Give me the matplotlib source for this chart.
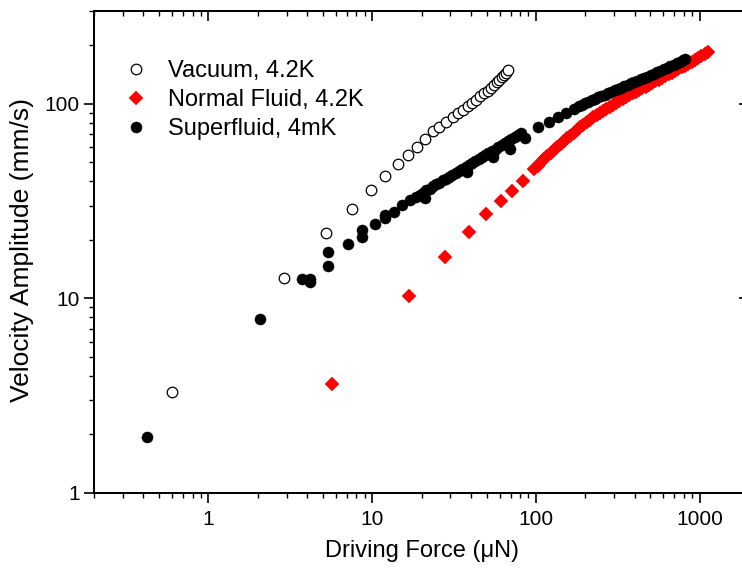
import matplotlib
matplotlib.use("Agg")
import matplotlib.pyplot as plt
from matplotlib.ticker import LogLocator, FixedLocator, FixedFormatter, NullFormatter

plt.rcParams['font.family'] = ['Liberation Sans', 'DejaVu Sans']

# ---------------- data ----------------
vac_x = [0.6, 2.9, 5.2, 7.5, 9.8, 12.0, 14.3, 16.5, 18.8, 21.1, 23.4, 25.7, 28.3, 31.0, 33.3,
         35.7, 38.3, 40.7, 43.1, 45.8, 48.4, 50.7, 53.2, 55.7, 57.9, 59.8, 61.8, 63.6, 65.4, 67.3]
vac_y = [3.3, 12.8, 21.6, 28.7, 36.0, 42.7, 49.0, 54.7, 59.9, 65.8, 72.1, 76.4, 81.1, 85.5, 89.6,
         93.1, 96.9, 100.8, 104.9, 109.1, 113.5, 117.0, 121.3, 125.3, 128.8, 132.8, 137.1, 140.9, 144.8, 149.6]

normal_x = [5.65, 16.7, 27.9, 38.8, 49.6, 61.0, 71.8, 83.9,
            97.7, 102.3, 107.2, 112.2, 117.5, 123.0, 128.8, 134.9, 141.3, 147.9, 154.9, 162.2,
            169.8, 177.8, 186.2, 195.0, 204.2, 213.8, 223.9, 234.4, 245.5, 257.0, 269.2, 281.8,
            295.1, 309.0, 323.6, 338.8, 354.8, 371.5, 389.0, 407.4, 426.6, 446.7, 467.7, 489.8,
            512.9, 537.0, 562.3, 588.8, 616.6, 645.7, 676.1, 707.9, 741.3, 776.2, 812.8, 851.1,
            891.3, 933.3, 977.2, 1023, 1072, 1117]
normal_y = [3.62, 10.3, 16.3, 21.9, 27.1, 31.6, 35.8, 40.2,
            46.2, 48.1, 50.0, 51.9, 53.9, 56.1, 58.1, 60.1, 62.1, 64.3, 66.4, 68.7,
            71.0, 73.3, 75.8, 78.2, 80.5, 82.8, 85.3, 87.3, 89.5, 91.8, 94.0, 96.4,
            98.7, 101.2, 103.5, 105.9, 108.3, 110.7, 113.2, 115.4, 117.8, 120.0, 122.5, 125.0,
            127.6, 130.3, 133.0, 135.8, 138.7, 141.6, 144.5, 147.6, 150.7, 154.2, 157.4, 160.7,
            164.1, 167.9, 171.8, 175.8, 180.7, 184.9]

super_x = [0.42, 2.07, 3.72, 4.17, 4.17, 5.39, 5.39, 7.08, 8.66, 8.66, 10.4, 12.0, 12.0, 13.6,
           15.3, 16.9, 18.5,
           19.5, 20.4, 21.4, 22.4, 23.4, 24.5, 25.7, 26.9, 28.2, 29.5, 30.9, 32.4, 33.9, 35.5,
           37.2, 38.9, 40.7, 42.7, 44.7, 46.8, 49.0, 51.3, 53.7, 56.2, 58.9, 61.7, 64.6, 67.6,
           70.8, 74.1, 77.6, 81.3,
           21.0, 37.8, 54.4, 69.6, 86.0,
           102.6, 120.0, 137.0, 153.0, 170.0,
           182.0, 190.5, 199.5, 208.9, 218.8, 229.1, 239.9, 251.2, 263.0, 275.4, 288.4, 302.0,
           316.2, 331.1, 346.7, 363.1, 380.2, 398.1, 416.9, 436.5, 457.1, 478.6, 501.2, 524.8,
           549.5, 575.4, 602.6, 631.0, 660.7, 691.8, 724.4, 758.6, 794.3, 812.8]
super_y = [1.93, 7.82, 12.6, 12.6, 12.1, 14.7, 17.3, 19.0, 20.6, 22.5, 24.0, 25.8, 26.9, 27.9,
           30.2, 32.1, 33.4,
           34.2, 35.0, 35.9, 36.7, 37.6, 38.5, 39.4, 40.4, 41.3, 42.3, 43.3, 44.3, 45.4, 46.4,
           47.5, 48.5, 49.7, 50.8, 52.0, 53.2, 54.3, 55.6, 56.9, 58.2, 59.7, 61.1, 62.7, 64.1,
           65.6, 67.3, 69.0, 70.8,
           32.7, 44.4, 53.1, 58.6, 66.6,
           75.9, 80.6, 85.5, 90.0, 94.5,
           97.3, 99.1, 100.9, 102.8, 104.5, 106.2, 107.9, 109.7, 111.5, 113.2, 115.3, 117.2,
           119.1, 121.2, 123.3, 125.3, 127.4, 129.4, 131.5, 133.6, 135.8, 138.0, 140.3, 142.9,
           145.2, 147.6, 150.3, 152.8, 155.6, 158.5, 161.4, 164.8, 167.9, 169.4]

labels = ["Vacuum, 4.2K", "Normal Fluid, 4.2K", "Superfluid, 4mK"]
x_ticks = [1, 10, 100, 1000]
x_ticklabels = ["1", "10", "100", "1000"]
y_ticks = [1, 10, 100]
y_ticklabels = ["1", "10", "100"]

# ---------------- figure ----------------
W, H = 742, 568
fig = plt.figure(figsize=(W / 100, H / 100), dpi=100)
ax = fig.add_axes([94 / W, 75 / H, 655 / W, 482 / H])

ax.plot(vac_x, vac_y, linestyle='none', marker='o', ms=7.6, mfc='white', mec='black',
        mew=0.9, label=labels[0], zorder=3)
ax.plot(normal_x, normal_y, linestyle='none', marker='D', ms=7.0, mfc='#ff0000', mec='#ff0000',
        mew=0.3, label=labels[1], zorder=4)
ax.plot(super_x, super_y, linestyle='none', marker='o', ms=8.0, mfc='black', mec='black',
        mew=0.3, label=labels[2], zorder=5)

ax.set_xscale('log')
ax.set_yscale('log')
ax.set_xlim(0.2, 2000)
ax.set_ylim(1, 300)

for s in ax.spines.values():
    s.set_linewidth(1.3)

ax.xaxis.set_major_locator(FixedLocator(x_ticks))
ax.xaxis.set_major_formatter(FixedFormatter(x_ticklabels))
ax.xaxis.set_minor_locator(LogLocator(base=10, subs=range(2, 10)))
ax.xaxis.set_minor_formatter(NullFormatter())
ax.yaxis.set_major_locator(FixedLocator(y_ticks))
ax.yaxis.set_major_formatter(FixedFormatter(y_ticklabels))
ax.yaxis.set_minor_locator(LogLocator(base=10, subs=range(2, 10)))
ax.yaxis.set_minor_formatter(NullFormatter())

ax.tick_params(which='major', direction='out', length=7.2, width=1.2, labelsize=15,
               top=False, right=False, pad=5)
ax.tick_params(which='minor', direction='out', length=3.6, width=1.0, top=False, right=False)
ax.tick_params(axis='y', which='major', pad=3)

# mirrored inward ticks on top and right
tx = ax.twiny()
tx.set_xscale('log')
tx.set_xlim(ax.get_xlim())
tx.xaxis.set_major_locator(FixedLocator(x_ticks))
tx.xaxis.set_minor_locator(LogLocator(base=10, subs=range(2, 10)))
tx.tick_params(which='major', direction='in', length=7.2, width=1.2, labeltop=False)
tx.tick_params(which='minor', direction='in', length=3.6, width=1.0, labeltop=False)
tx.xaxis.set_minor_formatter(NullFormatter())

ty = ax.twinx()
ty.set_yscale('log')
ty.set_ylim(ax.get_ylim())
ty.yaxis.set_major_locator(FixedLocator(y_ticks))
ty.yaxis.set_minor_locator(LogLocator(base=10, subs=range(2, 10)))
ty.tick_params(which='major', direction='in', length=7.2, width=1.2, labelright=False)
ty.tick_params(which='minor', direction='in', length=3.6, width=1.0, labelright=False)
ty.yaxis.set_minor_formatter(NullFormatter())
for a in (tx, ty):
    for s in a.spines.values():
        s.set_linewidth(1.3)

ax.set_xlabel("Driving Force (\u03bcN)", fontsize=17, labelpad=8)
ax.set_ylabel("Velocity Amplitude (mm/s)", fontsize=19)
ax.yaxis.set_label_coords(-60 / 655, 0.504)

fig.legend(loc='upper left', bbox_to_anchor=(124 / W, 1 - 60 / H), bbox_transform=fig.transFigure,
           frameon=False, borderpad=0, borderaxespad=0, handlelength=1.0, handletextpad=0.85,
           labelspacing=0.3, fontsize=17, numpoints=1,
           handles=ax.get_lines(), labels=labels)

fig.savefig("out.png", dpi=100)
